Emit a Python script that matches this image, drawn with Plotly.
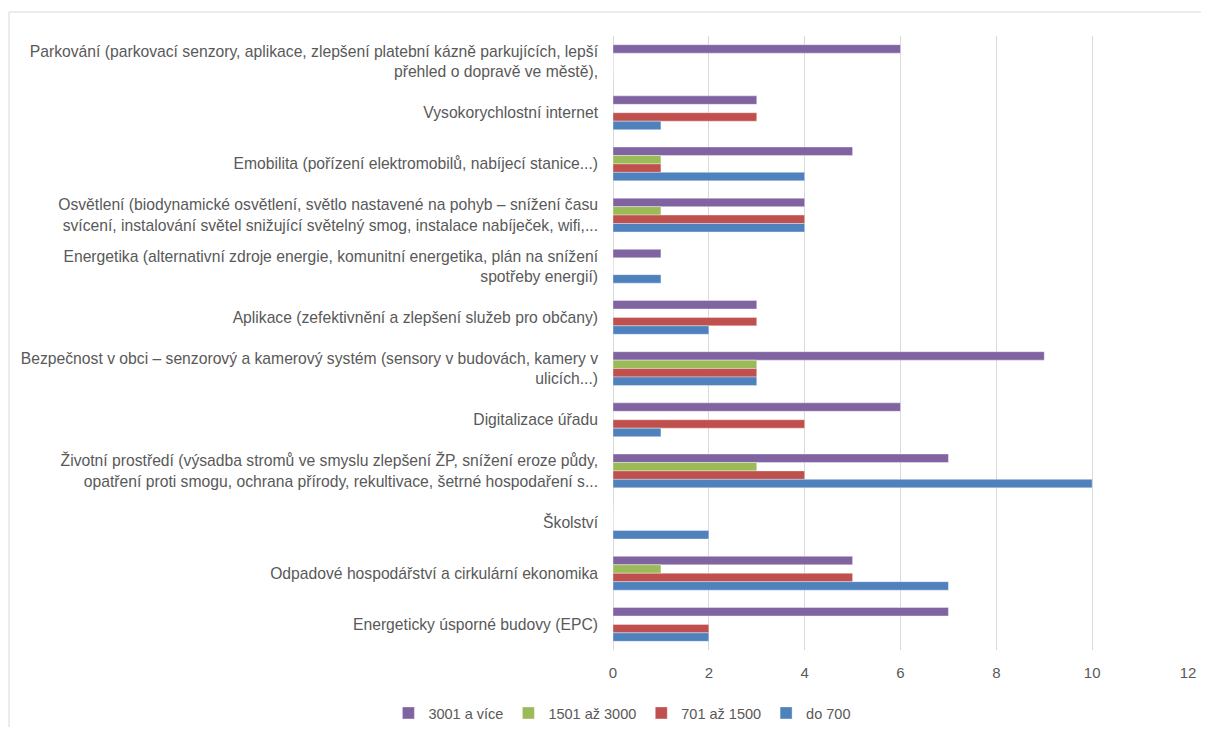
import plotly.graph_objects as go

categories = [
    "Parkování (parkovací senzory, aplikace, zlepšení platební kázně parkujících, lepší<br>přehled o dopravě ve městě),",
    "Vysokorychlostní internet",
    "Emobilita (pořízení elektromobilů, nabíjecí stanice...)",
    "Osvětlení (biodynamické osvětlení, světlo nastavené na pohyb – snížení času<br>svícení, instalování světel snižující světelný smog, instalace nabíječek, wifi,...",
    "Energetika (alternativní zdroje energie, komunitní energetika, plán na snížení<br>spotřeby energií)",
    "Aplikace (zefektivnění a zlepšení služeb pro občany)",
    "Bezpečnost v obci – senzorový a kamerový systém (sensory v budovách, kamery v<br>ulicích...)",
    "Digitalizace úřadu",
    "Životní prostředí (výsadba stromů ve smyslu zlepšení ŽP, snížení eroze půdy,<br>opatření proti smogu, ochrana přírody, rekultivace, šetrné hospodaření s...",
    "Školství",
    "Odpadové hospodářství a cirkulární ekonomika",
    "Energeticky úsporné budovy (EPC)",
]

series_names = ["3001 a více", "1501 až 3000", "701 až 1500", "do 700"]
v_3001 = [6, 3, 5, 4, 1, 3, 9, 6, 7, 0, 5, 7]
v_1501 = [0, 0, 1, 1, 0, 0, 3, 0, 3, 0, 1, 0]
v_701 = [0, 3, 1, 4, 0, 3, 3, 4, 4, 0, 5, 2]
v_do700 = [0, 1, 4, 4, 1, 2, 3, 1, 10, 2, 7, 2]
colors = ["#8064A2", "#9BBB59", "#C0504D", "#4F81BD"]

x_ticks = [0, 2, 4, 6, 8, 10, 12]

W, H = 1193, 719
ML, MR, MT, MB = 605, 13, 28, 77
PW, PH = W - ML - MR, H - MT - MB

fig = go.Figure()
for name, vals, col in zip(series_names, [v_3001, v_1501, v_701, v_do700], colors):
    fig.add_trace(go.Bar(
        y=categories, x=vals, name=name, orientation="h",
        marker=dict(color=col, line=dict(width=0.6, color="rgba(255,255,255,0.6)")),
    ))

fig.update_layout(
    width=W, height=H,
    barmode="group", bargap=0.34, bargroupgap=0,
    plot_bgcolor="white", paper_bgcolor="white",
    margin=dict(l=ML, r=MR, t=MT, b=MB, autoexpand=False),
    font=dict(family="Liberation Sans, Arial, sans-serif", size=15, color="#595959"),
    xaxis=dict(range=[0, 12], tickvals=x_ticks, showgrid=True, gridcolor="#D9D9D9",
               gridwidth=1, zeroline=True, zerolinecolor="#D9D9D9", zerolinewidth=1,
               showline=False, ticks="", ticklabelstandoff=12, automargin=False,
               tickfont=dict(size=15, color="#595959")),
    yaxis=dict(autorange="reversed", showline=False, ticks="", showgrid=False,
               ticklabelstandoff=14, automargin=False,
               tickfont=dict(size=15.7, color="#595959")),
    legend=dict(orientation="h", xref="container", yref="container",
                x=0.515, xanchor="center", y=1 - 705 / H, yanchor="middle",
                font=dict(size=14.5, color="#595959"), itemwidth=30,
                traceorder="normal"),
    shapes=[dict(type="rect", xref="paper", yref="paper",
                 x0=(1 - ML) / PW, x1=(W + 10 - ML) / PW,
                 y0=(H - MB - H - 20) / PH, y1=(H - MB - 4) / PH,
                 line=dict(color="#D9D9D9", width=1), layer="below")],
)

fig.write_html("out.html")
